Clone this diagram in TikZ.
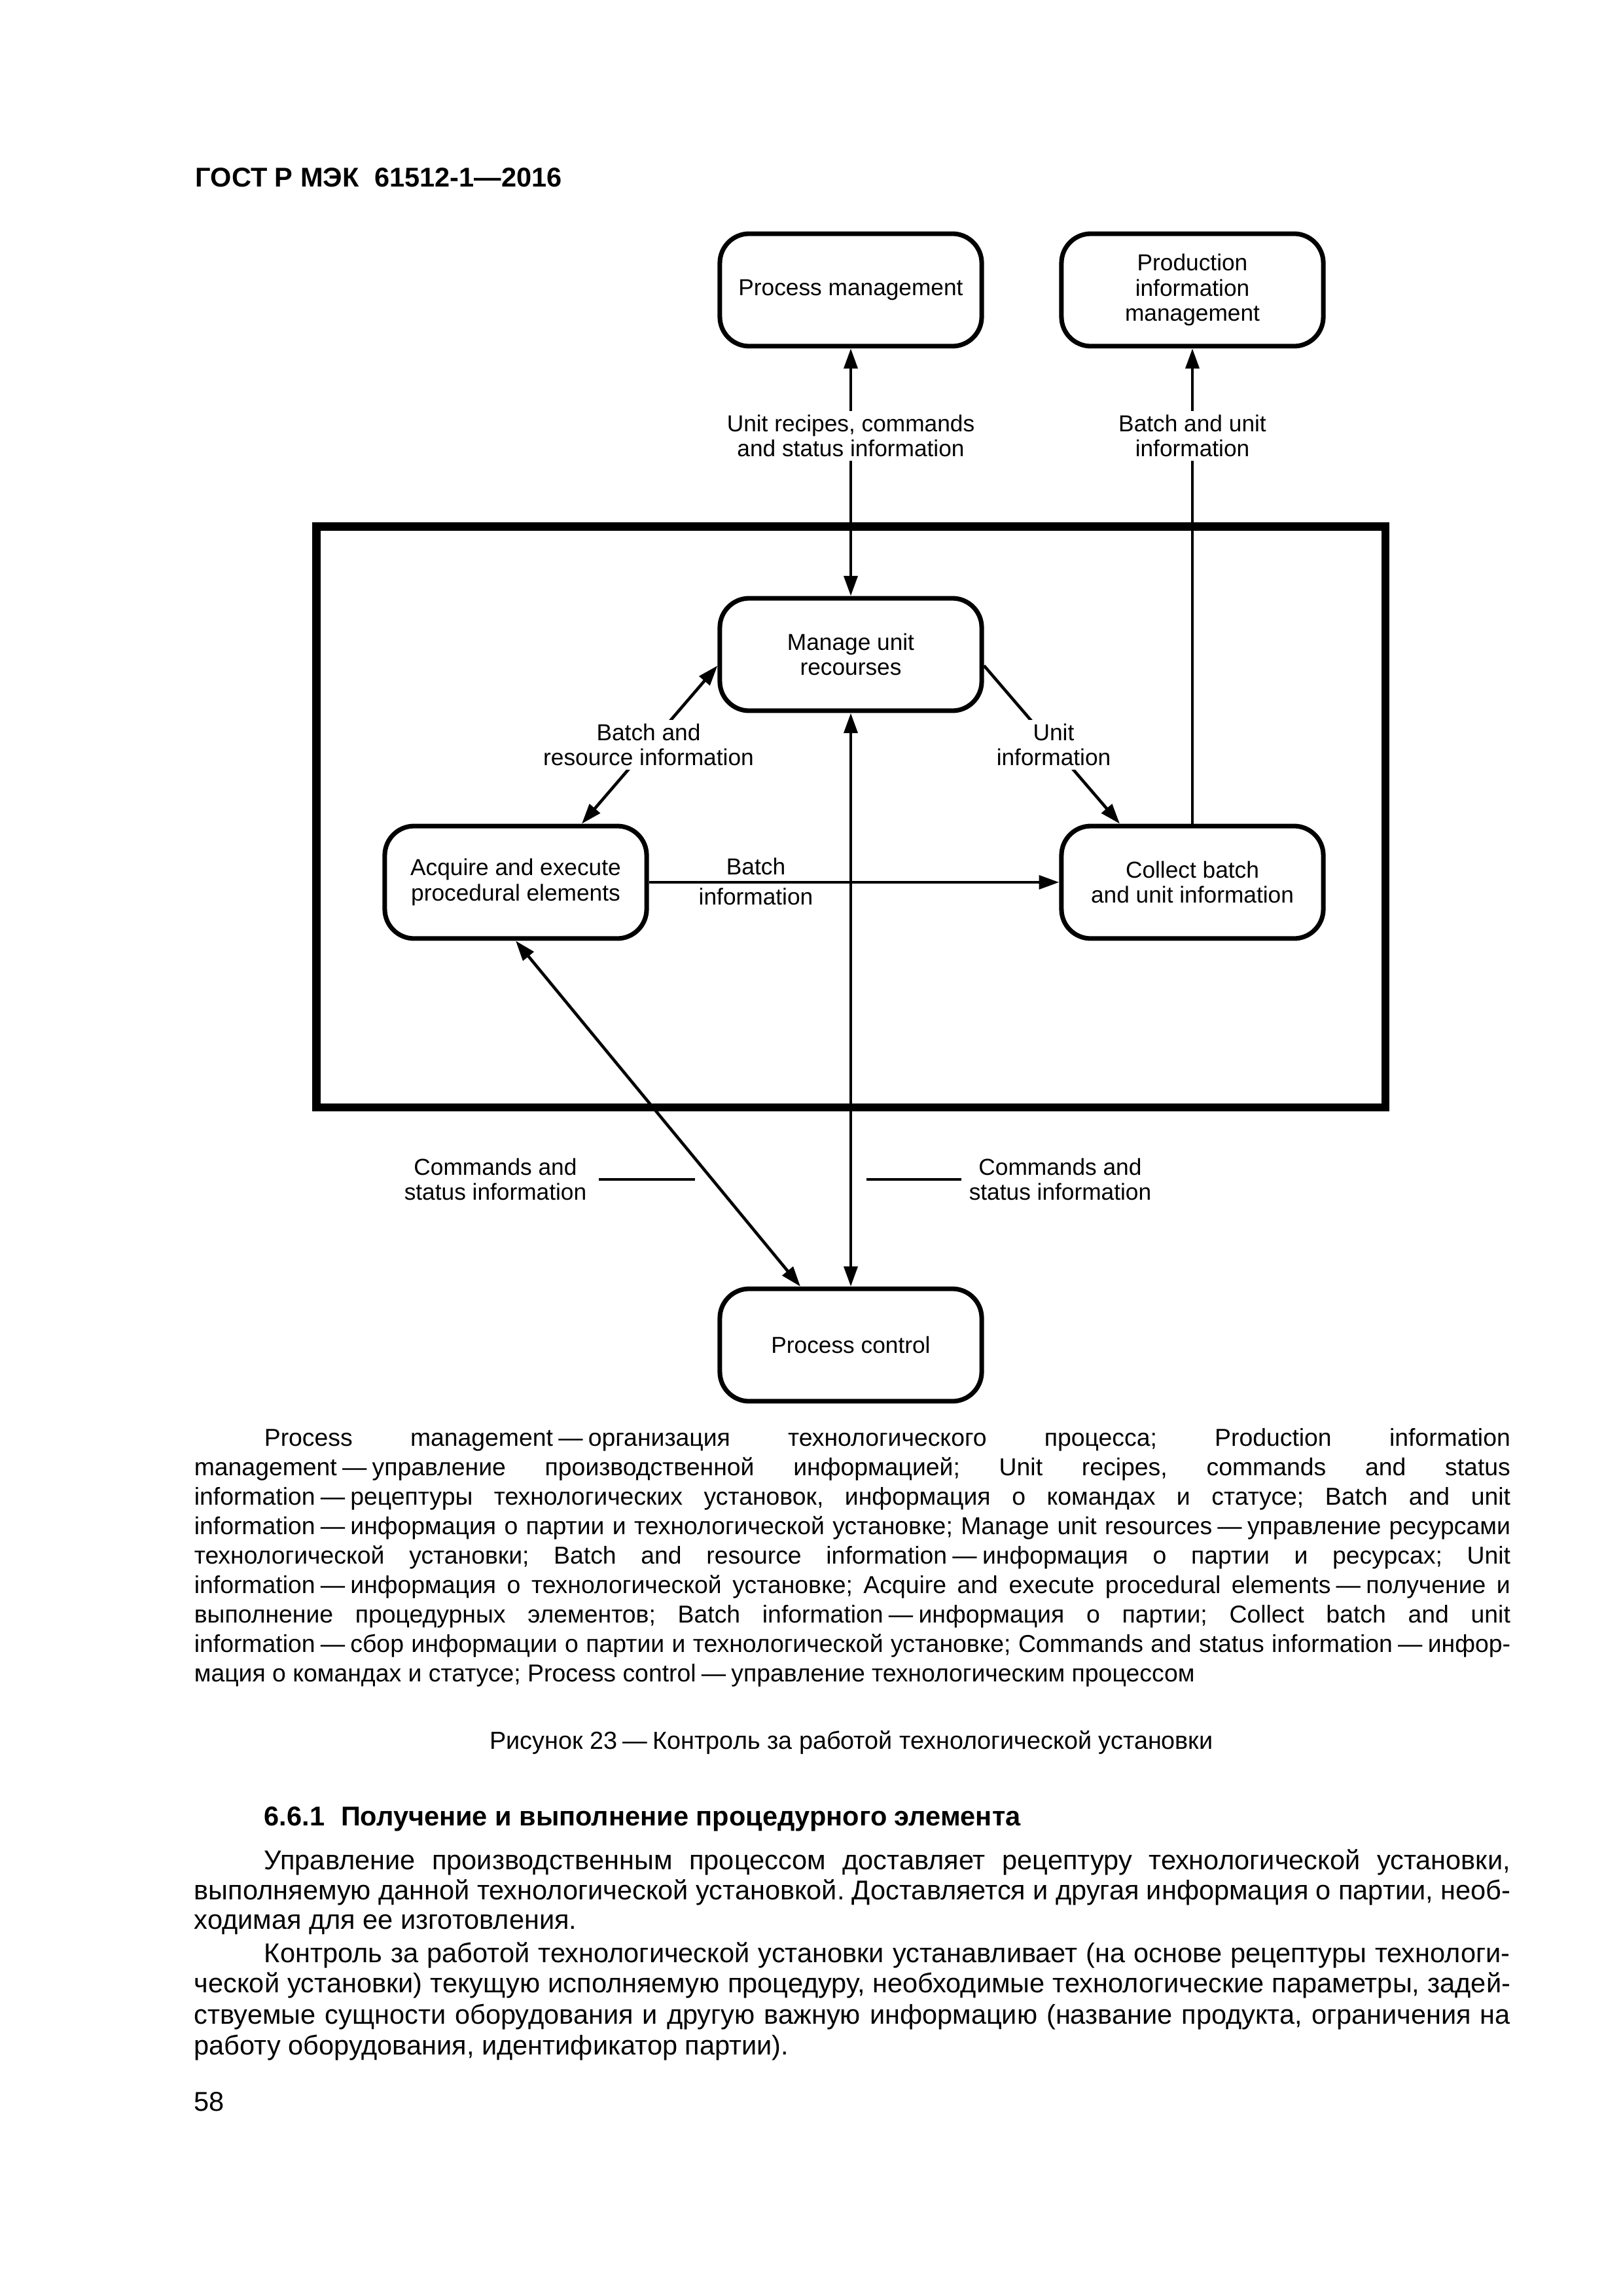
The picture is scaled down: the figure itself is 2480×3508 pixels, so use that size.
\documentclass[tikz,border=0pt]{standalone}
\usepackage{fontspec}
\setmainfont{Liberation Sans}
\usetikzlibrary{arrows.meta,calc}
\frenchspacing
\newcommand\dfont{\fontsize{8.5}{9.3}\selectfont}
\newcommand\lfont{\fontsize{9}{11}\selectfont}
\newcommand\bfont{\fontsize{10}{12}\selectfont}
\newcommand\emd{\hspace{0.22em}—\hspace{0.22em}}
\newcommand\jl[2]{\makebox[#1][s]{#2}}
\begin{document}
\begin{tikzpicture}[x=0.0846667mm, y=-0.0846667mm,
  box/.style={draw, line width=1.7pt, rounded corners=10.8pt, minimum width=96.4pt, minimum height=41.4pt, inner sep=0pt, align=center, font=\dfont},
  conn/.style={line width=1.1pt},
  arr/.style={conn, -{Triangle[length=7.4pt,width=5pt]}},
  darr/.style={conn, {Triangle[length=7.4pt,width=5pt]}-{Triangle[length=7.4pt,width=5pt]}},
  lbl/.style={font=\dfont, align=center, inner sep=0pt},
  wlbl/.style={lbl, fill=white, inner sep=1.5pt},
  leader/.style={line width=0.85pt},
  ltxt/.style={anchor=base west, inner sep=0pt, font=\lfont},
  btxt/.style={anchor=base west, inner sep=0pt, font=\bfont},
]
\useasboundingbox (0,0) rectangle (2480,3508);
\fill[white] (0,0) rectangle (2480,3508);

% header
\node[anchor=base west, inner sep=0pt, font=\fontsize{10}{12}\selectfont\bfseries] (hdr) at (298,285) {ГОСТ Р МЭК\hspace{0.3em} 61512-1—2016};

% frame
\draw[line width=3.1pt] (483.5,804.5) rectangle (2117,1692);

% boxes
\node[box] (PM) at (1300,443) {Process management};
\node[box] (PIM) at (1822,443) {Production\\information\\management};
\node[box] (MUR) at (1300,1000) {Manage unit\\recourses};
\node[box] (AEP) at (788,1348) {Acquire and execute\\procedural elements};
\node[box] (CBU) at (1822,1348) {Collect batch\\and unit information};
\node[box] (PC) at (1300,2055) {Process control};

% connectors
\draw[darr] (MUR.north) -- (PM.south);
\draw[arr] (CBU.north) -- (PIM.south);
\draw[darr] ($(AEP.north)+(101,0)$) -- ($(MUR.west)+(0,17)$);
\draw[arr] ($(MUR.east)+(0,17)$) -- ($(CBU.north)+(-111,0)$);
\draw[arr] (AEP.east) -- (CBU.west);
\draw[darr] (MUR.south) -- (PC.north);
\draw[darr] (AEP.south) -- ($(PC.north)+(-77,0)$);

% labels
\node[wlbl] (lUR) at (1300,666) {Unit recipes, commands\\and status information};
\node[wlbl] (lBU) at (1822,666) {Batch and unit\\information};
\node[wlbl] (lBR) at (991,1138) {Batch and\\resource information};
\node[wlbl] (lUI) at (1610,1138) {Unit\\information};
\node[lbl, anchor=base] (lB1) at (1155,1336) {Batch};
\node[lbl, anchor=base] (lB2) at (1155,1382) {information};
\node[lbl] (cmdL) at (757,1802) {Commands and\\status information};
\node[lbl] (cmdR) at (1620,1802) {Commands and\\status information};
\draw[leader] ($(cmdL.east)+(18,0)$) -- ++(147,0);
\draw[leader] ($(cmdR.west)+(-11,0)$) -- ++(-145,0);

% legend
\node[ltxt] (g1) at (403,2209) {\jl{458.7pt}{Process management\emd организация технологического процесса; Production information}};
\node[ltxt] (g2) at (296,2254) {\jl{484.5pt}{management\emd управление производственной информацией; Unit recipes, commands and status}};
\node[ltxt] (g3) at (296,2299) {\jl{484.5pt}{information\emd рецептуры технологических установок, информация о командах и статусе; Batch and unit}};
\node[ltxt] (g4) at (296,2344) {\jl{484.5pt}{information\emd информация о партии и технологической установке; Manage unit resources\emd управление ресурсами}};
\node[ltxt] (g5) at (296,2389) {\jl{484.5pt}{технологической установки; Batch and resource information\emd информация о партии и ресурсах; Unit}};
\node[ltxt] (g6) at (296,2434) {\jl{484.5pt}{information\emd информация о технологической установке; Acquire and execute procedural elements\emd получение и}};
\node[ltxt] (g7) at (296,2479) {\jl{484.5pt}{выполнение процедурных элементов; Batch information\emd информация о партии; Collect batch and unit}};
\node[ltxt] (g8) at (296,2524) {\jl{484.5pt}{information\emd сбор информации о партии и технологической установке; Commands and status information\emd инфор-}};
\node[ltxt] (g9) at (296,2569) {мация о командах и статусе; Process control\emd управление технологическим процессом};

% caption
\node[anchor=base, inner sep=0pt, font=\fontsize{9.1}{11}\selectfont] (cap) at (1301,2672) {Рисунок 23\emd Контроль за работой технологической установки};

% heading
\node[btxt, font=\bfont\bfseries] (hd) at (403,2789) {6.6.1\hspace{0.6em}Получение и выполнение процедурного элемента};

% body
\node[btxt] (b1) at (403,2856) {\jl{458.7pt}{Управление производственным процессом доставляет рецептуру технологической установки,}};
\node[btxt] (b2) at (296,2902) {\jl{484.5pt}{выполняемую данной технологической установкой. Доставляется и другая информация о партии, необ-}};
\node[btxt] (b3) at (296,2947) {ходимая для ее изготовления.};
\node[btxt] (b4) at (403,2998) {\jl{458.7pt}{Контроль за работой технологической установки устанавливает (на основе рецептуры технологи-}};
\node[btxt] (b5) at (296,3044) {\jl{484.5pt}{ческой установки) текущую исполняемую процедуру, необходимые технологические параметры, задей-}};
\node[btxt] (b6) at (296,3092) {\jl{484.5pt}{ствуемые сущности оборудования и другую важную информацию (название продукта, ограничения на}};
\node[btxt] (b7) at (296,3139) {работу оборудования, идентификатор партии).};

\node[btxt] (pg) at (296,3225) {58};
\end{tikzpicture}
\end{document}
